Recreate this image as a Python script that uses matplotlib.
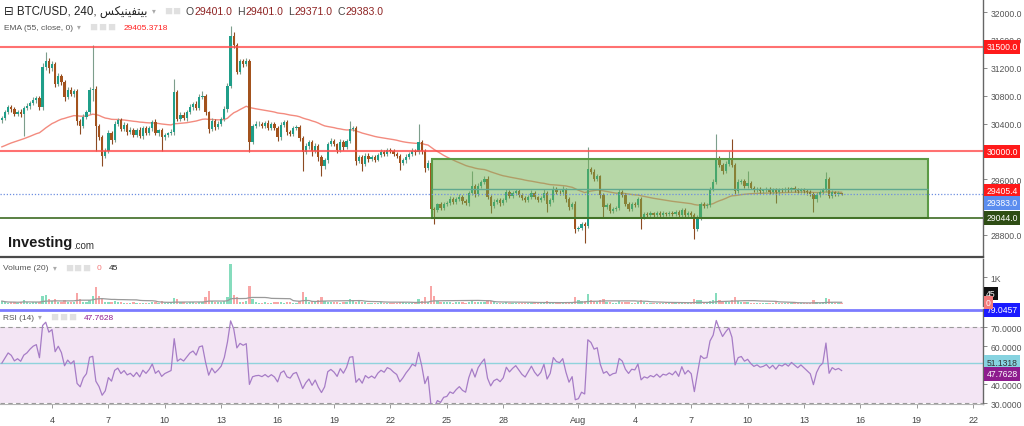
import numpy as np
import pandas as pd
import matplotlib
matplotlib.use("Agg")
import matplotlib.pyplot as plt
import matplotlib.dates as mdates
from matplotlib.patches import Rectangle
from matplotlib.text import Annotation
from matplotlib.transforms import blended_transform_factory

plt.rcParams["font.family"] = ["Liberation Sans", "DejaVu Sans"]

# BTC/USD 4h candles (Bitfinex), 1 Jul 08:00 -> 15 Aug 00:00, one row per day
close_rows = [
    [30480, 30560, 30640, 30610],
    [30540, 30570, 30540, 30620, 30650, 30700],
    [30740, 30760, 30640, 31210, 31300, 31190],
    [31250, 30970, 31080, 30990, 30780, 30880],
    [30820, 30870, 30440, 30360, 30500, 30570],
    [30880, 30900, 30360, 30210, 29930, 30010],
    [30270, 30170, 30400, 30450, 30320, 30380],
    [30280, 30310, 30240, 30310, 30220, 30330],
    [30270, 30330, 30420, 30260, 30300, 30200],
    [30240, 30260, 30280, 30850, 30470, 30520],
    [30480, 30560, 30640, 30680, 30620, 30780],
    [30800, 30560, 30320, 30440, 30350, 30400],
    [30460, 30610, 30940, 31660, 31520, 31140],
    [31290, 31250, 31300, 30140, 30360, 30390],
    [30400, 30360, 30410, 30340, 30390, 30330],
    [30200, 30380, 30420, 30280, 30250, 30330],
    [30350, 30190, 29990, 30080, 30140, 30000],
    [30080, 29920, 29790, 29870, 30110, 30150],
    [30100, 30020, 30140, 30060, 30150, 30320],
    [30330, 29860, 29920, 29820, 29940, 29890],
    [29920, 29880, 29950, 29990, 29960, 30020],
    [30000, 29960, 29930, 29830, 29870, 29920],
    [29960, 30010, 29990, 30140, 30000, 29760],
    [29840, 29170, 29160, 29240, 29190, 29250],
    [29260, 29310, 29280, 29320, 29350, 29290],
    [29260, 29400, 29500, 29390, 29500, 29560],
    [29610, 29350, 29220, 29280, 29300, 29260],
    [29300, 29420, 29360, 29400, 29430, 29380],
    [29330, 29300, 29350, 29400, 29340, 29300],
    [29330, 29400, 29250, 29300, 29460, 29420],
    [29410, 29450, 29320, 29200, 29250, 28890],
    [28900, 28960, 28930, 29750, 29710, 29610],
    [29640, 29370, 29200, 29230, 29150, 29180],
    [29190, 29420, 29380, 29250, 29180, 29240],
    [29230, 29310, 29060, 29100, 29080, 29110],
    [29090, 29120, 29080, 29110, 29100, 29120],
    [29100, 29130, 29080, 29160, 29090, 29120],
    [29090, 28890, 29050, 29250, 29220, 29230],
    [29460, 29560, 29890, 29800, 29720, 29820],
    [29910, 29810, 29430, 29560, 29580, 29510],
    [29540, 29480, 29440, 29460, 29430, 29440],
    [29460, 29420, 29450, 29410, 29450, 29440],
    [29460, 29440, 29470, 29450, 29430, 29450],
    [29430, 29410, 29390, 29310, 29380, 29420],
    [29440, 29600, 29360, 29410, 29390, 29401],
    [29383],
]

upper_wick_rows = [
    [30, 40, 25, 30],
    [25, 30, 40, 30, 40, 30],
    [40, 30, 30, 60, 130, 40],
    [40, 30, 40, 30, 30, 40],
    [40, 30, 25, 30, 40, 30],
    [40, 630, 40, 30, 30, 40],
    [30, 25, 40, 30, 30, 40],
    [30, 40, 30, 25, 40, 30],
    [30, 40, 30, 40, 25, 30],
    [30, 25, 40, 190, 30, 40],
    [40, 30, 40, 30, 40, 40],
    [60, 30, 25, 40, 30, 30],
    [30, 40, 40, 140, 60, 40],
    [40, 30, 40, 30, 30, 40],
    [30, 25, 30, 40, 30, 25],
    [30, 40, 30, 30, 25, 40],
    [30, 30, 25, 40, 30, 30],
    [40, 30, 30, 40, 30, 40],
    [30, 25, 40, 30, 30, 120],
    [30, 40, 30, 25, 40, 30],
    [30, 25, 30, 40, 30, 30],
    [30, 30, 25, 30, 30, 40],
    [30, 40, 30, 250, 30, 30],
    [30, 30, 30, 25, 40, 30],
    [30, 50, 30, 30, 40, 30],
    [30, 30, 220, 30, 40, 30],
    [30, 40, 30, 30, 25, 30],
    [30, 40, 30, 25, 30, 30],
    [25, 30, 30, 40, 30, 25],
    [30, 60, 30, 30, 40, 30],
    [30, 60, 30, 25, 30, 40],
    [30, 30, 30, 310, 30, 30],
    [30, 25, 30, 30, 30, 25],
    [30, 40, 30, 25, 30, 30],
    [30, 40, 30, 25, 30, 30],
    [25, 30, 25, 30, 25, 30],
    [30, 25, 30, 30, 25, 30],
    [30, 25, 30, 30, 30, 25],
    [30, 40, 360, 40, 30, 40],
    [100, 270, 30, 40, 30, 30],
    [180, 30, 25, 30, 30, 25],
    [30, 25, 30, 30, 25, 30],
    [25, 30, 25, 30, 25, 30],
    [30, 25, 30, 30, 30, 25],
    [30, 100, 30, 30, 25, 30],
    [0],
]

lower_wick_rows = [
    [40, 30, 30, 40],
    [30, 30, 40, 320, 30, 40],
    [30, 40, 50, 40, 40, 60],
    [30, 50, 30, 40, 60, 30],
    [30, 40, 60, 110, 30, 40],
    [30, 150, 350, 50, 140, 30],
    [40, 60, 30, 40, 30, 30],
    [40, 30, 40, 30, 30, 40],
    [30, 30, 40, 30, 40, 200],
    [40, 30, 30, 40, 40, 30],
    [30, 40, 30, 40, 30, 30],
    [30, 40, 60, 30, 40, 30],
    [40, 30, 40, 30, 40, 30],
    [30, 40, 30, 150, 40, 30],
    [30, 30, 25, 30, 30, 30],
    [50, 30, 30, 40, 30, 30],
    [30, 40, 270, 30, 40, 60],
    [30, 60, 140, 40, 30, 30],
    [30, 40, 30, 40, 30, 30],
    [30, 60, 30, 100, 30, 40],
    [30, 30, 25, 30, 30, 30],
    [30, 30, 30, 100, 30, 30],
    [30, 30, 40, 30, 40, 60],
    [30, 60, 200, 30, 30, 30],
    [30, 30, 40, 30, 30, 40],
    [30, 40, 30, 40, 30, 30],
    [30, 40, 100, 30, 30, 40],
    [30, 30, 30, 25, 30, 30],
    [30, 25, 30, 30, 30, 30],
    [30, 30, 120, 40, 30, 30],
    [30, 30, 40, 40, 30, 60],
    [40, 30, 250, 30, 30, 30],
    [30, 40, 140, 30, 30, 30],
    [30, 30, 40, 30, 30, 30],
    [30, 30, 170, 30, 30, 30],
    [25, 30, 25, 30, 25, 30],
    [30, 25, 30, 25, 30, 25],
    [30, 150, 40, 30, 30, 30],
    [30, 30, 30, 30, 40, 30],
    [30, 30, 40, 30, 30, 30],
    [30, 25, 30, 30, 30, 25],
    [30, 30, 30, 150, 30, 30],
    [25, 30, 25, 30, 25, 30],
    [30, 30, 30, 180, 30, 30],
    [30, 30, 30, 30, 30, 30],
    [12],
]

volume_rows = [
    [110, 60, 50, 70],
    [60, 40, 90, 150, 60, 50],
    [70, 60, 90, 300, 350, 180],
    [120, 190, 80, 90, 150, 60],
    [60, 90, 400, 200, 80, 70],
    [150, 300, 630, 300, 200, 80],
    [90, 60, 120, 70, 60, 50],
    [50, 40, 60, 40, 50, 50],
    [40, 50, 70, 80, 50, 120],
    [50, 40, 60, 220, 190, 60],
    [60, 50, 70, 60, 50, 80],
    [60, 250, 480, 100, 70, 60],
    [60, 110, 250, 1480, 330, 250],
    [90, 80, 120, 670, 200, 70],
    [50, 40, 60, 40, 50, 70],
    [60, 60, 50, 90, 60, 50],
    [50, 120, 440, 250, 80, 100],
    [80, 140, 250, 120, 90, 60],
    [60, 70, 50, 60, 70, 180],
    [130, 90, 100, 60, 70, 50],
    [40, 50, 40, 60, 50, 40],
    [40, 50, 40, 90, 60, 50],
    [50, 40, 60, 180, 110, 250],
    [90, 650, 300, 120, 80, 60],
    [90, 70, 50, 60, 80, 60],
    [50, 70, 150, 80, 60, 70],
    [80, 140, 110, 60, 50, 40],
    [50, 60, 40, 50, 40, 50],
    [40, 30, 40, 50, 40, 30],
    [40, 60, 110, 60, 80, 50],
    [40, 60, 70, 90, 60, 260],
    [150, 100, 120, 360, 150, 100],
    [60, 140, 170, 70, 90, 50],
    [50, 110, 60, 80, 70, 50],
    [50, 70, 160, 60, 50, 40],
    [30, 40, 30, 40, 30, 40],
    [40, 30, 50, 40, 30, 40],
    [40, 200, 150, 130, 60, 50],
    [110, 140, 420, 130, 120, 100],
    [90, 150, 250, 110, 70, 60],
    [60, 50, 40, 50, 40, 50],
    [40, 30, 40, 80, 40, 30],
    [30, 40, 30, 40, 30, 40],
    [40, 30, 50, 130, 60, 50],
    [60, 230, 180, 70, 50, 40],
    [45],
]

first_open = 30450.0
ema_seed = 30050.0          # EMA(55) level at the left edge
ema_last = 29405.3718
rsi_seed = 55.0             # starting average gain / loss
rsi_last = 47.7628
rsi_level = 51.1318
rsi_top_level = 79.0457

resistance_levels = [31500.0, 30000.0]
support_level = 29044.0
box_start, box_end = "2023-07-24 05:00", "2023-08-19 14:00"
box_low, box_high = 29044.0, 29890.0

tick_dates = ["2023-07-04", "2023-07-07", "2023-07-10", "2023-07-13", "2023-07-16",
              "2023-07-19", "2023-07-22", "2023-07-25", "2023-07-28", "2023-08-01",
              "2023-08-04", "2023-08-07", "2023-08-10", "2023-08-13", "2023-08-16",
              "2023-08-19", "2023-08-22"]
tick_labels = ["4", "7", "10", "13", "16", "19", "22", "25", "28", "Aug",
               "4", "7", "10", "13", "16", "19", "22"]
# scale labels that are not hidden behind the value tags
price_ticks = [28800, 29600, 30400, 30800, 31200, 31600, 32000]
rsi_ticks = [30, 40, 60, 70]

# ---- derived series ----
close = np.array(sum(close_rows, []), dtype=float)
opens = np.r_[first_open, close[:-1]]
high = np.maximum(opens, close) + np.array(sum(upper_wick_rows, []), dtype=float)
low = np.minimum(opens, close) - np.array(sum(lower_wick_rows, []), dtype=float)
volume = np.array(sum(volume_rows, []), dtype=float)
n = len(close)
times = pd.date_range("2023-07-01 08:00", periods=n, freq="4h")
t = mdates.date2num(times)
up = close >= opens

ema = pd.Series(np.r_[ema_seed, close]).ewm(span=55, adjust=False).mean().values[1:]
delta = np.diff(np.r_[first_open, close])
gain = pd.Series(np.r_[rsi_seed, np.clip(delta, 0, None)]).ewm(alpha=1 / 14, adjust=False).mean().values[1:]
loss = pd.Series(np.r_[rsi_seed, np.clip(-delta, 0, None)]).ewm(alpha=1 / 14, adjust=False).mean().values[1:]
rsi = 100 - 100 / (1 + gain / loss)
vol_ma = pd.Series(volume).rolling(20, min_periods=1).mean().values

# ---- figure ----
W, H = 1024, 427
fig = plt.figure(figsize=(W / 100, H / 100), dpi=100)
fig.patch.set_facecolor("white")


def px(x0, y0, x1, y1):
    return [x0 / W, 1 - y1 / H, (x1 - x0) / W, (y1 - y0) / H]


ax = fig.add_axes(px(0, 0, 983, 258))
axv = fig.add_axes(px(0, 260, 983, 307), sharex=ax)
axr = fig.add_axes(px(0, 310, 983, 405), sharex=ax)

day0 = mdates.date2num(pd.Timestamp("2023-07-01"))
ax.set_xlim(day0 + 0.234, day0 + 52.52)

# candles
bw = 0.72 / 6
up_body, dn_body = "#1f9e89", "#a3521d"
up_wick, dn_wick = "#7d9e8c", "#8c4a22"
ax.vlines(t, low, high, colors=np.where(up, up_wick, dn_wick), lw=0.8, zorder=3)
ax.bar(t, np.maximum(np.abs(close - opens), 8), bottom=np.minimum(opens, close),
       width=bw, color=np.where(up, up_body, dn_body), lw=0, zorder=3)
ax.plot(t, ema, color="#f38b7f", lw=1.0, zorder=2)

# drawings
b0 = mdates.date2num(pd.Timestamp(box_start))
b1 = mdates.date2num(pd.Timestamp(box_end))
ax.add_patch(Rectangle((b0, box_low), b1 - b0, box_high - box_low, fc="#6fb050", alpha=0.5,
                       ec="none", zorder=4))
ax.add_patch(Rectangle((b0, box_low), b1 - b0, box_high - box_low, fill=False,
                       ec="#5b9a45", lw=1.5, zorder=5))
ax.hlines((box_low + box_high) / 2, b0, b1, color="#5fa88f", lw=1.0, zorder=5)
for lv in resistance_levels:
    ax.axhline(lv, color="#ff4d4d", lw=1.5, alpha=0.8, zorder=5)
ax.axhline(support_level, color="#3d6b22", lw=1.2, zorder=5)
ax.axhline(close[-1], color="#6d8fe0", lw=0.9, ls=(0, (1, 1.5)), zorder=5)

ax.set_ylim(28484, 32187)
ax.yaxis.tick_right()
ax.set_yticks(price_ticks)
ax.set_yticklabels([f"{v:.1f}" for v in price_ticks])

# volume
axv.bar(t, volume, width=bw, color=np.where(up, "#86dcbd", "#f8a6a6"), lw=0)
axv.plot(t, vol_ma, color="#9a9a9a", lw=0.9)
axv.set_ylim(-74, 1667)
axv.yaxis.tick_right()
axv.set_yticks([1000])
axv.set_yticklabels(["1K"])

# RSI
axr.axhspan(30, 70, color="#f3e5f4", lw=0)
for lv in (70, 30):
    axr.axhline(lv, color="#9a9a9a", lw=0.8, ls=(0, (4, 3)))
axr.axhline(rsi_level, color="#8fd3dc", lw=1.0)
axr.axhline(rsi_top_level, color="#7b7bff", lw=2.0)
axr.plot(t, rsi, color="#a67cc6", lw=0.9)
axr.set_ylim(29.5, 79.5)
axr.yaxis.tick_right()
axr.set_yticks(rsi_ticks)
axr.set_yticklabels([f"{v:.4f}" for v in rsi_ticks])

axr.set_xticks(mdates.date2num(pd.to_datetime(tick_dates)))
axr.set_xticklabels(tick_labels)

for a in (ax, axv, axr):
    for s in ("top", "left", "bottom"):
        a.spines[s].set_visible(False)
    a.spines["right"].set_color("#666666")
    a.spines["right"].set_linewidth(1.0)
    a.tick_params(axis="y", which="both", length=3, width=0.7, colors="#888888",
                  labelcolor="#555555", labelsize=6.2, pad=2.5)
    a.tick_params(axis="x", length=0, labelbottom=False)
    a.patch.set_alpha(0)
ax.spines["bottom"].set_visible(True)
ax.spines["bottom"].set_color("#4a4a4a")
ax.spines["bottom"].set_linewidth(1.6)
axr.spines["bottom"].set_visible(True)
axr.spines["bottom"].set_color("#b5b5b5")
axr.tick_params(axis="x", length=3, width=0.7, colors="#999999", labelcolor="#444444",
                labelsize=6.5, pad=5, labelbottom=True)


def tag(a, y, text, fc, tc="white", dy=0):
    a.annotate(text, xy=(1.0, y), xycoords=blended_transform_factory(a.transAxes, a.transData),
               xytext=(2.5, dy), textcoords="offset points", fontsize=6.2, color=tc,
               va="center", ha="left", annotation_clip=False, zorder=10,
               bbox=dict(boxstyle="square,pad=0.25", fc=fc, ec="none"))


tag(ax, resistance_levels[0], f"{resistance_levels[0]:.1f}", "#ff1a1a")
tag(ax, resistance_levels[1], f"{resistance_levels[1]:.1f}", "#ff1a1a")
tag(ax, ema_last, f"{ema_last:.1f}", "#ff1a1a", dy=1.7)
tag(ax, close[-1], f"{close[-1]:.1f}", "#5b8def", dy=-6.2)
tag(ax, support_level, f"{support_level:.1f}", "#2e4d14")
tag(axr, rsi_top_level, f"{rsi_top_level:.4f}", "#1a1aff")
tag(axr, rsi_level, f"{rsi_level:.4f}", "#86d3e0", tc="#333333", dy=0.6)
tag(axr, rsi_last, f"{rsi_last:.4f}", "#8e1b8e", dy=-3.3)


def ftext(x, y, s, **kw):
    kw.setdefault("va", "center")
    return fig.text(x / W, 1 - y / H, s, **kw)


def follow(prev, items):
    # put each (gap, text, style) just right of the previous text
    for gap, s, kw in items:
        prev = fig.add_artist(Annotation(s, xy=(1, 0.5), xycoords=prev, xytext=(gap, 0),
                                         textcoords="offset points", va="center", ha="left",
                                         annotation_clip=False, **kw))
    return prev


ICON = dict(fontsize=9.5, color="#e0e0e0")
ARROW = dict(fontsize=5.5, color="#aaaaaa")

# volume value tags on the right scale
ftext(986, 294.5, f"{volume[-1]:.0f}", fontsize=6.2, color="white",
      bbox=dict(boxstyle="square,pad=0.25", fc="#111111", ec="none"))
ftext(986, 303.5, "0", fontsize=6.2, color="white",
      bbox=dict(boxstyle="square,pad=0.25", fc="#f47a7a", ec="none"))

# header lines
venue = "\ufeb2\ufedc\ufef4\ufee8\ufef4\ufed4\ufe98\ufef4\ufe91"  # بيتفينيكس
title = ftext(4, 12, "\u229f BTC/USD, 240, " + venue, fontsize=8.3, color="#222222")
hdr_vals = [opens[-1], high[-1], low[-1], close[-1]]
items = [(3, "\u25be", ARROW), (6, "\u25a0", ICON), (0.5, "\u25a0", ICON)]
first_gap = 4
for lab, v in zip("OHLC", hdr_vals):
    items.append((first_gap, lab, dict(fontsize=7.6, color="#444444")))
    items.append((0.3, f"{v:.1f}", dict(fontsize=7.6, color="#8e2323")))
    first_gap = 3.5
follow(title, items)

ema_hdr = ftext(4, 28, "EMA (55, close, 0)", fontsize=6.0, color="#555555")
follow(ema_hdr, [(3, "\u25be", ARROW), (6, "\u25a0", ICON), (0.5, "\u25a0", ICON),
                 (0.5, "\u25a0", ICON),
                 (6, f"{ema_last:.4f}", dict(fontsize=6.0, color="#ff2020"))])

logo = ftext(8, 243, "Investing", fontsize=10.5, fontweight="bold", color="#1a1a1a")
fig.add_artist(Annotation(".com", xy=(1, 0.3), xycoords=logo, xytext=(0.5, 0),
                          textcoords="offset points", va="center", ha="left",
                          fontsize=7, color="#333333", annotation_clip=False))

vol_hdr = ftext(3, 269, "Volume (20)", fontsize=6.0, color="#555555")
follow(vol_hdr, [(3, "\u25be", ARROW), (6, "\u25a0", ICON), (0.5, "\u25a0", ICON),
                 (0.5, "\u25a0", ICON), (5, "0", dict(fontsize=6.0, color="#f47a7a")),
                 (5, f"{volume[-1]:.0f}", dict(fontsize=6.0, color="#222222"))])

rsi_hdr = ftext(3, 318, "RSI (14)", fontsize=6.0, color="#555555")
follow(rsi_hdr, [(3, "\u25be", ARROW), (6, "\u25a0", ICON), (0.5, "\u25a0", ICON),
                 (0.5, "\u25a0", ICON),
                 (6, f"{rsi_last:.4f}", dict(fontsize=6.0, color="#8e1b8e"))])

fig.savefig("out.png", dpi=100, facecolor="white")
